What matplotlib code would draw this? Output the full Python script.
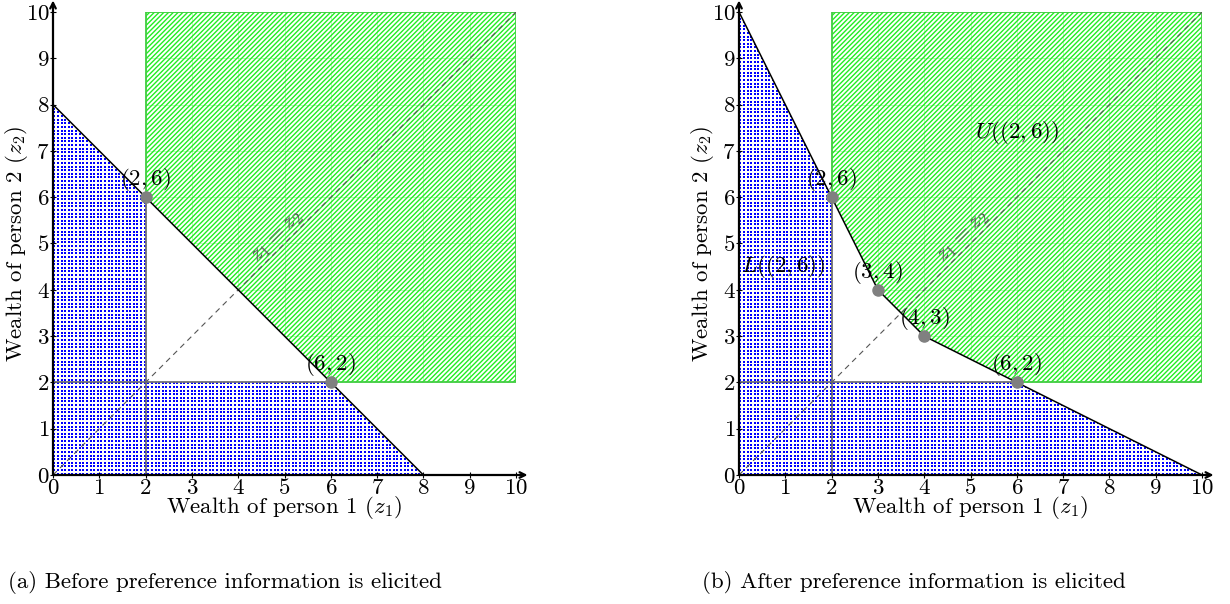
import matplotlib
matplotlib.use('Agg')
import matplotlib.pyplot as plt
import numpy as np
from matplotlib.patches import Polygon

plt.rcParams['mathtext.fontset'] = 'cm'
plt.rcParams['font.family'] = 'cmr10'
plt.rcParams['axes.formatter.use_mathtext'] = True
plt.rcParams['hatch.linewidth'] = 1.0

# ------------------------------------------------------------
# Chart data
# ------------------------------------------------------------
ticks = list(range(11))
ref_point = (2, 6)
corner = 2          # min of the reference point -> lower corner of U
top = 10

before_z1 = [0, 2, 6, 8]
before_z2 = [8, 6, 2, 0]
after_z1 = [0, 2, 3, 4, 6, 10]
after_z2 = [10, 6, 4, 3, 2, 0]

captions = ['(a) Before preference information is elicited',
            '(b) After preference information is elicited']

FS = 16.5
BLUE = '#0000ff'
GREEN = '#22ee22'
GRAY = '#808080'


def draw_panel(ax, z1, z2, show_sets):
    ax.set_xlim(0, 10)
    ax.set_ylim(0, 10)
    for s in ax.spines.values():
        s.set_visible(False)

    pts = list(zip(z1, z2))
    i_ref = pts.index(ref_point)
    i_low = pts.index((ref_point[1], ref_point[0]))

    # lower set L: dotted blue texture
    blue = [(0, 0)] + pts[:i_ref + 1] + [(corner, corner)] + pts[i_low:]
    bpoly = Polygon(blue, closed=True, facecolor='none', lw=0)
    ax.add_patch(bpoly)
    g = np.arange(0.03, 10, 0.078)
    gx, gy = np.meshgrid(g, g)
    dots = ax.scatter(gx.ravel(), gy.ravel(), marker='s', s=1.1, color=BLUE,
                      linewidths=0)
    dots.set_clip_path(bpoly)

    # upper set U: green hatched
    green = [(corner, top), (top, top), (top, corner)] + pts[i_ref:i_low + 1][::-1]
    gpoly = Polygon(green, closed=True, facecolor='none', edgecolor=GREEN,
                    hatch='///////', lw=0)
    ax.add_patch(gpoly)
    for t in ticks[1:]:
        l1 = ax.axvline(t, color=GREEN, lw=0.6, alpha=0.35)
        l1.set_clip_path(gpoly)
        l2 = ax.axhline(t, color=GREEN, lw=0.6, alpha=0.35)
        l2.set_clip_path(gpoly)
    ax.plot([corner, corner, top, top, ref_point[1]],
            [ref_point[1], top, top, corner, corner], color='#44cc44', lw=1.3)

    # guide lines
    ax.plot([0, 10], [0, 10], color='#555555', lw=0.8, ls=(0, (5, 4)))
    ax.plot([corner, corner], [0, ref_point[1]], color='#666666', lw=1.2)
    ax.plot([0, ref_point[1]], [corner, corner], color='#666666', lw=1.2)

    # frontier
    ax.plot(z1, z2, color='black', lw=1.1)
    ax.plot(z1[1:-1], z2[1:-1], 'o', color=GRAY, ms=8, zorder=5)
    for x, y in pts[1:-1]:
        ax.annotate(r'$(%d,%d)$' % (x, y), (x, y), xytext=(0, 3),
                    textcoords='offset points', ha='center', va='bottom',
                    fontsize=FS)

    ax.text(4.85, 5.15, r'$z_1 = z_2$', rotation=45, ha='center', va='center',
            color='#555555', fontsize=FS)
    if show_sets:
        ax.text(6.0, 7.4, r'$U((2,6))$', ha='center', va='center', fontsize=FS)
        ax.text(0.95, 4.5, r'$L((2,6))$', ha='center', va='center', fontsize=FS)

    # axes with arrows
    ax.annotate('', xy=(10.25, 0), xytext=(0, 0), annotation_clip=False,
                arrowprops=dict(arrowstyle='->', lw=1.6, color='black',
                                shrinkA=0, shrinkB=0))
    ax.annotate('', xy=(0, 10.25), xytext=(0, 0), annotation_clip=False,
                arrowprops=dict(arrowstyle='->', lw=1.6, color='black',
                                shrinkA=0, shrinkB=0))
    ax.set_xticks(ticks)
    ax.set_yticks(ticks)
    ax.tick_params(direction='inout', length=5, width=0.8, labelsize=FS, pad=0)
    ax.set_xlabel(r'Wealth of person 1 ($z_1$)', fontsize=FS)
    ax.set_ylabel(r'Wealth of person 2 ($z_2$)', fontsize=FS)
    ax.xaxis.set_label_coords(0.5, -0.04)
    ax.yaxis.set_label_coords(-0.05, 0.5)


fig = plt.figure(figsize=(12.3, 6.04), dpi=100)
ax1 = fig.add_axes([53 / 1230, 1 - 475 / 604, 463 / 1230, 463 / 604])
ax2 = fig.add_axes([739 / 1230, 1 - 475 / 604, 463 / 1230, 463 / 604])

draw_panel(ax1, before_z1, before_z2, False)
draw_panel(ax2, after_z1, after_z2, True)

fig.text(8 / 1230, 1 - 583 / 604, captions[0], fontsize=FS, va='center')
fig.text(702 / 1230, 1 - 583 / 604, captions[1], fontsize=FS, va='center')

fig.savefig('out.png', dpi=100)
